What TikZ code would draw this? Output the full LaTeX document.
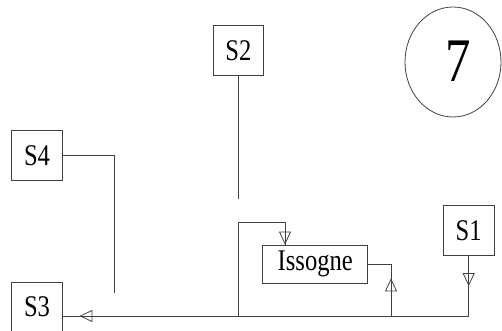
\documentclass[tikz,border=0pt]{standalone}
\usepackage{fontspec}
\newfontfamily\lbl[FakeStretch=0.82]{Liberation Serif}
\usetikzlibrary{arrows.meta,decorations.markings,shapes.geometric}
\begin{document}
\begin{tikzpicture}[x=1pt,y=-1pt,
  ln/.style={draw=black!75,line width=0.8pt},
  box/.style={ln,fill=white,inner sep=0pt,minimum width=50.6pt,minimum height=50.6pt,font=\lbl\fontsize{30}{30}\selectfont},
  tipat/.style={postaction={decorate},decoration={markings,mark=at position #1 with {\arrow{Triangle[open,length=13pt,width=12pt,line width=0.8pt]}}}},
  twotips/.style 2 args={postaction={decorate},decoration={markings,
     mark=at position #1 with {\arrow{Triangle[open,length=13pt,width=12pt,line width=0.8pt]}},
     mark=at position #2 with {\arrow{Triangle[open,length=13pt,width=12pt,line width=0.8pt]}}}}
]
\useasboundingbox (0,0) rectangle (502,331);

\node[box] (S2) at (238.4,50.5) {S2};
\node[box] (S4) at (37,155.5) {S4};
\node[box] (S3) at (37,307.2) {S3};
\node[box] (S1) at (468.7,230.5) {S1};
\node[box,minimum width=105pt,minimum height=38.3pt] (Iss) at (315.3,264.2) {Issogne};
\node[ln,ellipse,inner sep=0pt,minimum width=96pt,minimum height=110pt] (circ) at (453,62) {};
\node[font=\lbl\fontsize{62}{62}\selectfont,inner sep=0pt] (seven) at (458,61) {7};

\coordinate (m) at (0,316);
\coordinate (s2end) at (238.4,199);
\coordinate (j) at (238.4,222.3);
\coordinate (jr) at (285,222.3);
\coordinate (ir) at (391,0);
\coordinate (s4c) at (114.3,293.3);

\draw[ln] (S2) -- (s2end);
\draw[ln,tipat=0.9999] (S2.south |- m) -- (j) -- (jr) -- (Iss.north -| jr);
\draw[ln,tipat=37.7pt] (ir |- m) -- (ir |- Iss.east) -- (Iss.east);
\draw[ln,twotips={29.9pt}{-16.7pt}] (S1) -- (S1.south |- m) -- (S3.east |- m);
\draw[ln] (S4.east) -- (S4.east -| s4c) -- (s4c);
\end{tikzpicture}
\end{document}
